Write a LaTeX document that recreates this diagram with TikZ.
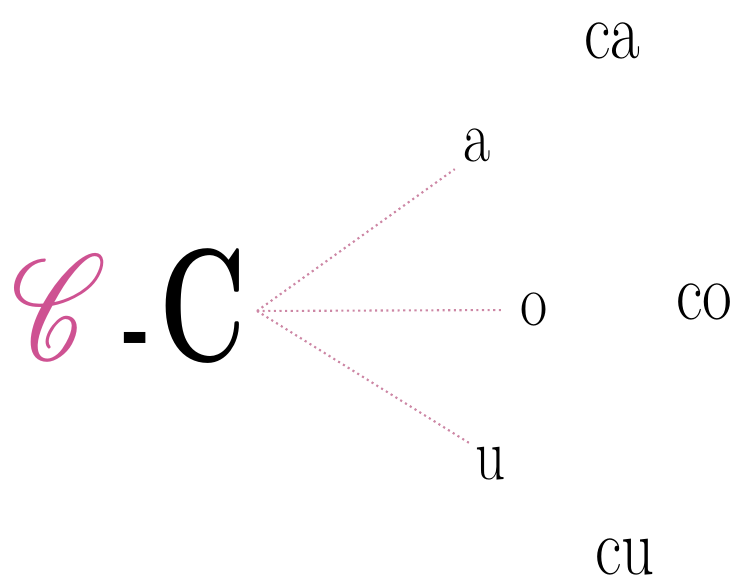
\documentclass[tikz,border=0pt]{standalone}
\usepackage{mathrsfs}
\definecolor{scriptpink}{RGB}{206,82,146}
\definecolor{dotpink}{RGB}{205,135,165}
\tikzset{
  big/.style={font=\fontsize{46}{46}\selectfont\bfseries, xscale=0.66, transform shape, inner sep=0pt, anchor=base},
  fancy/.style={font=\fontsize{46}{46}\selectfont, text=scriptpink, xscale=1.3, yscale=1.7, transform shape, inner sep=0pt, anchor=base},
  hyphen/.style={font=\fontsize{34}{34}\selectfont\bfseries, xscale=0.6, transform shape, inner sep=0pt, anchor=base},
  vowel/.style={font=\fontsize{21}{21}\selectfont, xscale=0.8, transform shape, inner sep=0pt},
  syllable/.style={font=\fontsize{23}{23}\selectfont, xscale=0.8, transform shape, inner sep=0pt},
  branch/.style={draw=dotpink, densely dotted, line width=0.6pt},
}
\begin{document}
\begin{tikzpicture}
	\useasboundingbox (0,0) rectangle (7.39,5.87);
	% the two C
	\node[fancy] (scriptC) at (0.59,2.27) {$\mathscr{C}$};
	\node[hyphen] (dash) at (1.37,2.22) {-};
	\node[big] (romanC) at (2.03,2.25) {C};
	\coordinate (hub) at (2.57,2.76);
	% vowels
	\node[vowel] (a) at (4.77,4.41) {a};
	\node[vowel] (o) at (5.34,2.77) {o};
	\node[vowel] (u) at (4.91,1.23) {u};
	% syllables
	\node[syllable] (ca) at (6.12,5.46) {ca};
	\node[syllable] (co) at (7.04,2.85) {co};
	\node[syllable] (cu) at (6.25,0.30) {cu};
	\draw[branch, shorten >=0.1cm] (hub) -- (a.south west);
	\draw[branch, shorten >=0.17cm] (hub) -- (o.west);
	\draw[branch, shorten >=0.06cm] (hub) -- (u.north west);
\end{tikzpicture}
\end{document}
